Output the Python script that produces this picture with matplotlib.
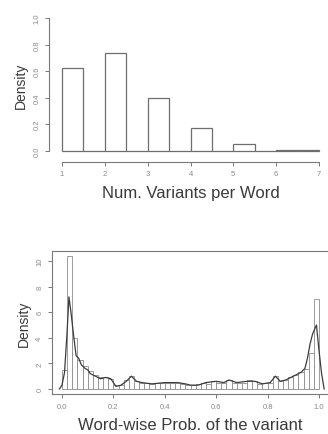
import numpy as np
import matplotlib
matplotlib.use("Agg")
import matplotlib.pyplot as plt

plt.rcParams['font.family'] = ['Liberation Sans', 'DejaVu Sans']

# top histogram: variants per word (breaks every 0.5)
var_breaks = np.arange(1.0, 7.01, 0.5)
var_density = [0.625, 0.0, 0.735, 0.0, 0.40, 0.0, 0.172, 0.0, 0.048, 0.0, 0.004, 0.003]
var_ticks = [1, 2, 3, 4, 5, 6, 7]
var_yticks = [0.0, 0.2, 0.4, 0.6, 0.8, 1.0]

# bottom histogram: word-wise probability of the variant (bins of 0.02)
prob_breaks = np.linspace(0.0, 1.0, 51)
prob_density = [1.5, 10.4, 4.0, 2.3, 1.8, 1.4, 1.1, 0.9, 0.9, 0.8,
                0.3, 0.3, 0.7, 1.0, 0.6, 0.5, 0.5, 0.4, 0.5, 0.5,
                0.5, 0.5, 0.5, 0.4, 0.3, 0.3, 0.4, 0.5, 0.4, 0.6,
                0.5, 0.5, 0.7, 0.5, 0.5, 0.5, 0.7, 0.6, 0.4, 0.5,
                0.5, 1.0, 0.6, 0.7, 0.9, 1.1, 1.3, 1.6, 2.8, 7.0]
# overlaid density curve
dens_x = [-0.01, 0.00, 0.01, 0.02, 0.027, 0.035, 0.045, 0.055, 0.065, 0.075,
          0.09, 0.10, 0.11, 0.13, 0.15, 0.17, 0.19, 0.20, 0.21, 0.23,
          0.25, 0.27, 0.29, 0.31, 0.35, 0.40, 0.45, 0.48, 0.50, 0.53,
          0.56, 0.60, 0.63, 0.65, 0.68, 0.72, 0.75, 0.78, 0.81, 0.83,
          0.85, 0.87, 0.89, 0.91, 0.93, 0.945, 0.955, 0.965, 0.975, 0.99,
          1.00, 1.01, 1.02]
dens_y = [0.0, 0.3, 1.3, 4.5, 7.2, 6.0, 4.2, 2.6, 2.4, 1.9,
          1.6, 1.5, 1.2, 1.0, 0.8, 0.9, 0.8, 0.5, 0.2, 0.3,
          0.6, 1.0, 0.6, 0.5, 0.4, 0.5, 0.5, 0.4, 0.3, 0.3,
          0.5, 0.6, 0.5, 0.7, 0.5, 0.6, 0.6, 0.4, 0.5, 1.0,
          0.6, 0.7, 0.9, 1.1, 1.3, 1.6, 2.4, 3.5, 4.3, 5.0,
          3.0, 1.2, 0.0]
prob_ticks = [0.0, 0.2, 0.4, 0.6, 0.8, 1.0]
prob_ticklabels = ['0.0', '0.2', '0.4', '0.6', '0.8', '1.0']
prob_yticks = [0, 2, 4, 6, 8, 10]

axis_col = '#7a7a7a'
bar_col = '#6e6e6e'
text_col = '#3a3a3a'
tick_col = '#8a8a8a'

W, H = 328, 435
fig = plt.figure(figsize=(W / 100, H / 100), dpi=100)


def px_axes(left, top, right, bottom):
    return fig.add_axes([left / W, 1 - bottom / H, (right - left) / W, (bottom - top) / H])


def style_ticks(ax):
    ax.tick_params(axis='both', colors=axis_col, labelcolor=tick_col,
                   labelsize=5.5, length=3, width=0.7, pad=3)
    for lab in ax.get_yticklabels():
        lab.set_rotation(90)
        lab.set_va('center')


# ---- top plot
ax1 = px_axes(51.7, 13.7, 329.3, 157.0)
ax1.bar(var_breaks[:-1], var_density, width=np.diff(var_breaks), align='edge',
        facecolor='white', edgecolor=bar_col, linewidth=0.9)
ax1.set_xlim(0.76, 7.24)
ax1.set_ylim(-0.04, 1.04)
for s in ['top', 'right']:
    ax1.spines[s].set_visible(False)
ax1.spines['left'].set_bounds(0, 1.0)
ax1.spines['bottom'].set_bounds(1, 7)
ax1.spines['bottom'].set_position(('outward', 4))
ax1.spines['left'].set_position(('outward', 2))
for s in ['left', 'bottom']:
    ax1.spines[s].set_color(axis_col)
    ax1.spines[s].set_linewidth(0.8)
ax1.set_xticks(var_ticks)
ax1.set_yticks(var_yticks)
ax1.set_yticklabels(['0.0', '0.2', '0.4', '0.6', '0.8', '1.0'])
style_ticks(ax1)
ax1.set_ylabel('Density', fontsize=10, color=text_col, labelpad=4)
ax1.set_xlabel('Num. Variants per Word', fontsize=12, color=text_col, labelpad=6)

# ---- bottom plot
ax2 = px_axes(51.7, 251.6, 329.3, 395.3)
ax2.bar(prob_breaks[:-1], prob_density, width=np.diff(prob_breaks), align='edge',
        facecolor='white', edgecolor='#8c8c8c', linewidth=0.6)
ax2.plot(dens_x, dens_y, color='#3c3c3c', linewidth=0.9)
ax2.set_xlim(-0.04, 1.04)
ax2.set_ylim(-0.416, 10.816)
for s in ax2.spines.values():
    s.set_color(axis_col)
    s.set_linewidth(0.8)
ax2.set_xticks(prob_ticks)
ax2.set_xticklabels(prob_ticklabels)
ax2.set_yticks(prob_yticks)
style_ticks(ax2)
ax2.set_ylabel('Density', fontsize=10, color=text_col, labelpad=4)
ax2.set_xlabel('Word-wise Prob. of the variant', fontsize=12, color=text_col, labelpad=5)

fig.savefig('out.png', dpi=100)
